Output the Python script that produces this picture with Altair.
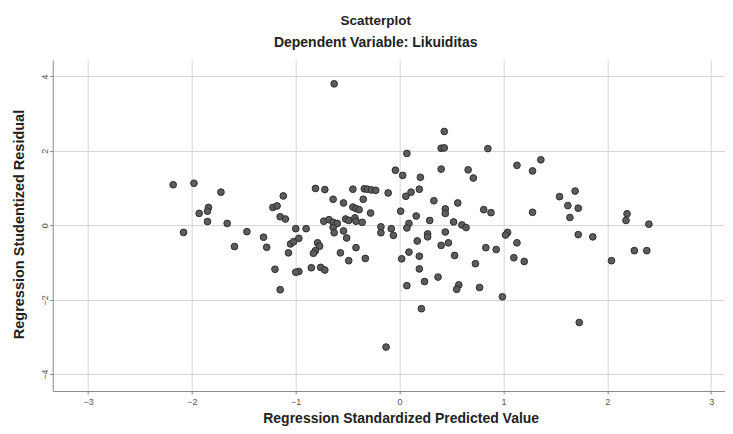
import altair as alt
import pandas as pd

# Regression Standardized Predicted Value
pred = [
    -2.18, -1.98, -1.72, -1.84, -1.85, -1.93, -1.85, -1.66, -2.08, -1.47,
    -1.31, -1.59, -1.28, -1.20, -1.15, -1.12, -1.22, -1.18, -1.15, -1.10,
    -1.05, -1.07, -1.02, -1.00, -0.90, -0.97, -0.81, -0.72, -0.45, -0.34,
    -0.31, -0.27, -0.23, -0.11, -0.64, -0.54, -0.35, -0.45, -0.42, -0.39,
    -0.28, -0.73, -0.68, -0.64, -0.60, -0.52, -0.49, -0.43, -0.42, -0.36,
    -0.64, -0.63, -0.54, -0.51, -0.18, -0.18, -0.08, -0.06, -0.79, -0.77,
    -0.81, -0.83, -0.57, -0.42, -0.49, -0.33, -0.97, -1.00, -0.85, -0.76,
    -0.72, -0.13, -0.63, 0.43, 0.40, 0.43, 0.07, 0.85, -0.04, 0.03,
    0.20, 0.40, 0.66, 0.71, 1.13, 0.06, 0.11, 0.19, 0.33, 0.56,
    0.01, 0.16, 0.29, 0.44, 0.44, 0.81, 0.88, 0.09, 0.07, 0.52,
    0.60, 0.64, 0.27, 0.27, 0.44, 1.04, 1.02, 0.17, 0.40, 0.47,
    1.13, 0.09, 0.02, 0.19, 0.53, 0.83, 0.93, 1.10, 1.20, 0.19,
    0.73, 0.37, 0.24, 0.07, 0.57, 0.55, 0.77, 0.99, 0.21, 1.36,
    1.28, 1.69, 1.54, 1.62, 1.72, 1.28, 1.64, 2.19, 2.18, 2.40,
    1.72, 1.86, 2.26, 2.38, 2.04, 1.73,
]

# Regression Studentized Residual
resid = [
    1.09, 1.13, 0.89, 0.48, 0.38, 0.32, 0.10, 0.05, -0.19, -0.17,
    -0.32, -0.57, -0.59, -1.18, -1.73, 0.79, 0.48, 0.52, 0.23, 0.17,
    -0.50, -0.74, -0.44, -0.09, -0.09, -0.35, 0.99, 0.96, 0.97, 0.98,
    0.97, 0.95, 0.94, 0.87, 0.70, 0.60, 0.70, 0.49, 0.45, 0.42,
    0.33, 0.11, 0.15, 0.08, 0.05, 0.17, 0.13, 0.20, 0.11, 0.08,
    -0.06, -0.20, -0.15, -0.34, -0.04, -0.20, -0.09, -0.27, -0.47, -0.56,
    -0.68, -0.75, -0.74, -0.60, -0.95, -0.89, -1.24, -1.26, -1.14, -1.13,
    -1.20, -3.27, 3.80, 2.52, 2.07, 2.08, 1.93, 2.06, 1.48, 1.34,
    1.29, 1.51, 1.49, 1.27, 1.61, 0.78, 0.89, 0.97, 0.66, 0.60,
    0.38, 0.25, 0.13, 0.44, 0.32, 0.42, 0.34, 0.05, -0.07, 0.09,
    0.01, -0.06, -0.23, -0.31, -0.18, -0.19, -0.26, -0.42, -0.54, -0.47,
    -0.47, -0.72, -0.90, -0.83, -0.81, -0.60, -0.65, -0.87, -0.97, -1.17,
    -1.03, -1.39, -1.51, -1.62, -1.60, -1.72, -1.67, -1.92, -2.24, 1.76,
    1.46, 0.92, 0.77, 0.53, 0.46, 0.35, 0.21, 0.31, 0.13, 0.03,
    -0.25, -0.31, -0.68, -0.68, -0.95, -2.61,
]

x_ticks = [-3, -2, -1, 0, 1, 2, 3]
y_ticks = [-4, -2, 0, 2, 4]

df = pd.DataFrame({"pred": pred, "resid": resid})

FONT = "Liberation Sans"

chart = (
    alt.Chart(df)
    .mark_circle(size=45, color="#5c5c5c", stroke="#2e2e2e", strokeWidth=1, opacity=1)
    .encode(
        x=alt.X(
            "pred:Q",
            scale=alt.Scale(domain=[-3.34, 3.13], nice=False, zero=False),
            axis=alt.Axis(
                values=x_ticks,
                title="Regression Standardized Predicted Value",
                labelPadding=4,
                titleX=348,
                titleY=28,
                titleBaseline="middle",
                titleAlign="center",
            ),
        ),
        y=alt.Y(
            "resid:Q",
            scale=alt.Scale(domain=[-4.45, 4.44], nice=False, zero=False),
            axis=alt.Axis(
                values=y_ticks,
                title="Regression Studentized Residual",
                labelAngle=270,
                labelPadding=0,
                titleAngle=270,
                titleFontSize=14.5,
                titleX=-33,
                titleY=164,
                titleBaseline="middle",
                titleAlign="center",
            ),
        ),
    )
    .properties(
        width=672,
        height=331,
        title=alt.TitleParams(
            text="Scatterplot",
            subtitle="Dependent Variable: Likuiditas",
            anchor="middle",
            font=FONT,
            subtitleFont=FONT,
            fontSize=13.5,
            subtitleFontSize=14,
            fontWeight="bold",
            subtitleFontWeight="bold",
            color="#222222",
            subtitleColor="#222222",
            offset=10,
            subtitlePadding=9,
            dx=-13,
        ),
        autosize=alt.AutoSizeParams(type="none"),
        padding={"left": 44.7, "top": 52, "right": 0, "bottom": 35},
    )
    .configure_view(stroke=None)
    .configure_axis(
        domainColor="#8a8a8a",
        gridColor="#d6d6d6",
        tickColor="#8a8a8a",
        tickSize=3,
        labelFont=FONT,
        labelFontSize=9,
        labelColor="#555555",
        titleFont=FONT,
        titleFontSize=14,
        titleFontWeight="bold",
        titleColor="#222222",
    )
)

chart.save("out.html", embed_options={"renderer": "svg", "actions": False})
